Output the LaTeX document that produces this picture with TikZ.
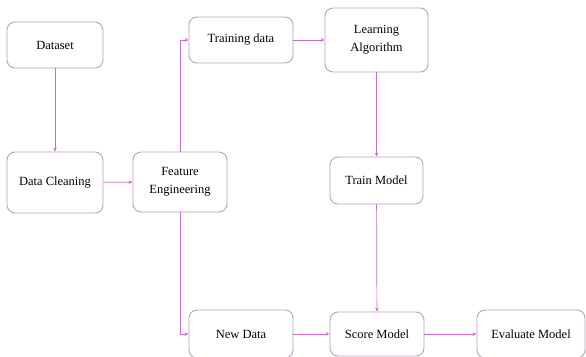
\documentclass[tikz,border=0pt]{standalone}
\usepackage{fontspec}
\setmainfont{Liberation Serif}
\usetikzlibrary{arrows.meta}
\definecolor{boxline}{RGB}{185,160,190}
\definecolor{conn}{RGB}{200,110,200}
\tikzset{
  box/.style={draw=boxline, line width=0.9pt, rounded corners=8pt, fill=white,
    align=center, font=\fontsize{12.5}{18}\selectfont, inner sep=2pt},
  link/.style={draw=conn, line width=0.7pt, -{Stealth[length=4pt,width=3.5pt]}}
}
\begin{document}
\begin{tikzpicture}[x=1pt,y=-1pt]
\useasboundingbox (0,0) rectangle (586,356);
\clip (0,0) rectangle (586,356);
\fill[white] (0,0) rectangle (586,356);
\node[box, minimum width=96pt, minimum height=46pt] (dataset) at (55,45) {Dataset};
\node[box, minimum width=96pt, minimum height=61pt] (clean) at (55,182.5) {Data Cleaning};
\node[box, minimum width=94pt, minimum height=60pt] (feat) at (180,182) {Feature\\Engineering};
\node[box, minimum width=104pt, minimum height=46pt] (train) at (241,40) {Training data};
\node[box, minimum width=103pt, minimum height=64pt] (learn) at (376.5,40) {Learning\\Algorithm};
\node[box, minimum width=93pt, minimum height=47pt] (tmodel) at (376.5,180.5) {Train Model};
\node[box, minimum width=104pt, minimum height=48pt] (newd) at (241,334) {New Data};
\node[box, minimum width=94pt, minimum height=44pt] (score) at (377,334) {Score Model};
\node[box, minimum width=108pt, minimum height=48pt] (eval) at (531,334) {Evaluate Model};
\draw[link] (dataset) -- (clean);
\draw[link] (clean) -- (feat);
\draw[link] (feat.north) |- (train.west);
\draw[link] (train) -- (learn);
\draw[link] (learn) -- (tmodel);
\draw[link] (tmodel) -- (score);
\draw[link] (feat.south) |- (newd.west);
\draw[link] (newd) -- (score);
\draw[link] (score) -- (eval);
\end{tikzpicture}
\end{document}
